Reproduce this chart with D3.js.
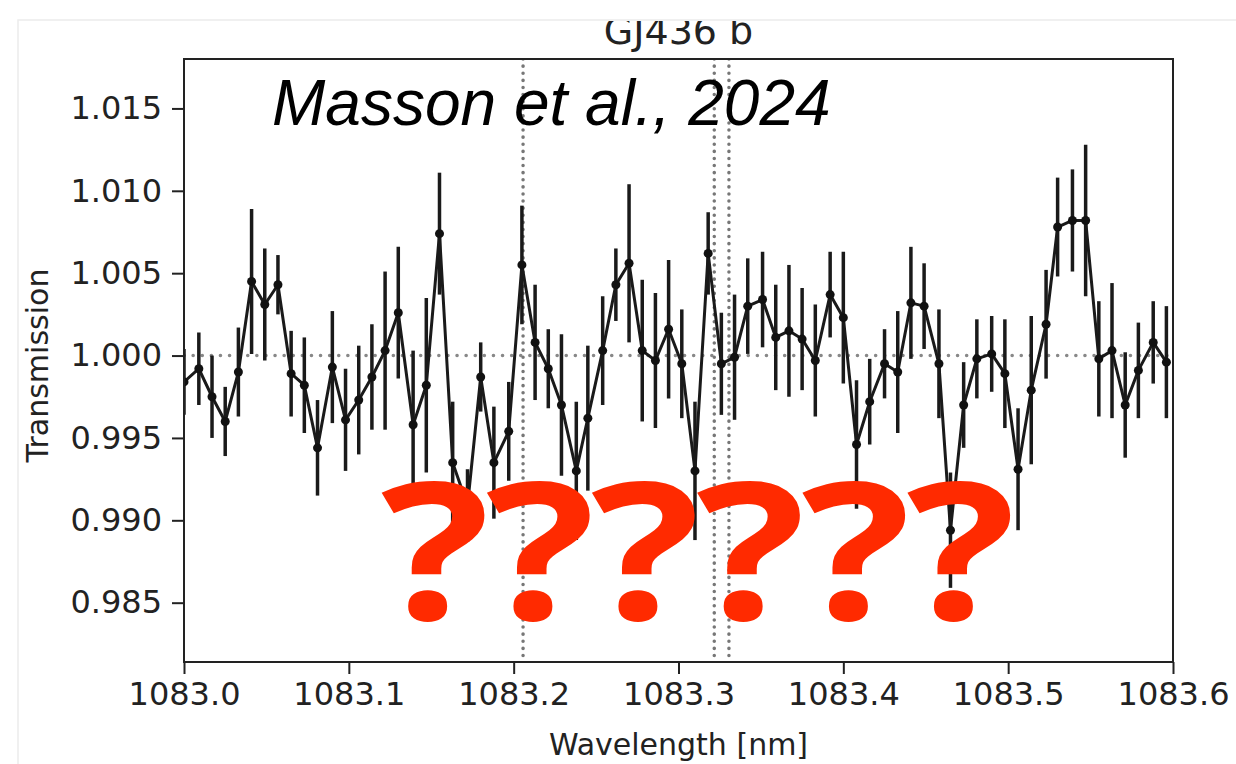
<!DOCTYPE html>
<html>
<head>
<meta charset="utf-8">
<script src="https://cdn.jsdelivr.net/npm/d3@7"></script>
<style>
  body { margin: 0; background: #fff; }
  text { font-family: "DejaVu Sans", sans-serif; }
</style>
</head>
<body>
<div id="chart"></div>
<script>
var wavelength = [1083.000, 1083.009, 1083.017, 1083.025, 1083.033, 1083.041, 1083.049, 1083.057, 1083.065, 1083.073,
  1083.081, 1083.090, 1083.098, 1083.106, 1083.114, 1083.122, 1083.130, 1083.139, 1083.147, 1083.155,
  1083.163, 1083.172, 1083.180, 1083.188, 1083.197, 1083.205, 1083.213, 1083.221, 1083.229, 1083.238,
  1083.245, 1083.254, 1083.262, 1083.270, 1083.278, 1083.286, 1083.294, 1083.302, 1083.310, 1083.318,
  1083.326, 1083.334, 1083.342, 1083.351, 1083.359, 1083.367, 1083.375, 1083.383, 1083.392, 1083.400,
  1083.408, 1083.416, 1083.425, 1083.433, 1083.441, 1083.449, 1083.458, 1083.465, 1083.473, 1083.481,
  1083.490, 1083.498, 1083.506, 1083.514, 1083.523, 1083.530, 1083.539, 1083.547, 1083.555, 1083.563,
  1083.571, 1083.579, 1083.588, 1083.596];

var transmission = [0.9984, 0.9992, 0.9975, 0.9960, 0.9990, 1.0045, 1.0031, 1.0043, 0.9989, 0.9982,
  0.9944, 0.9993, 0.9961, 0.9973, 0.9987, 1.0003, 1.0026, 0.9958, 0.9982, 1.0074,
  0.9935, 0.9909, 0.9987, 0.9935, 0.9954, 1.0055, 1.0008, 0.9992, 0.9970, 0.9930,
  0.9962, 1.0003, 1.0043, 1.0056, 1.0003, 0.9997, 1.0016, 0.9995, 0.9930, 1.0062,
  0.9995, 0.9999, 1.0030, 1.0034, 1.0011, 1.0015, 1.0010, 0.9997, 1.0037, 1.0023,
  0.9946, 0.9972, 0.9995, 0.9990, 1.0032, 1.0030, 0.9995, 0.9894, 0.9970, 0.9998,
  1.0001, 0.9989, 0.9931, 0.9979, 1.0019, 1.0078, 1.0082, 1.0082, 0.9998, 1.0003,
  0.9970, 0.9991, 1.0008, 0.9996];

var errors = [0.0020, 0.0022, 0.0025, 0.0021, 0.0027, 0.0044, 0.0034, 0.0018, 0.0026, 0.0029,
  0.0029, 0.0034, 0.0031, 0.0033, 0.0032, 0.0048, 0.0040, 0.0045, 0.0053, 0.0037,
  0.0037, 0.0022, 0.0021, 0.0034, 0.0030, 0.0036, 0.0035, 0.0024, 0.0043, 0.0042,
  0.0044, 0.0033, 0.0022, 0.0048, 0.0043, 0.0041, 0.0042, 0.0033, 0.0042, 0.0025,
  0.0031, 0.0038, 0.0029, 0.0029, 0.0032, 0.0040, 0.0031, 0.0034, 0.0026, 0.0040,
  0.0039, 0.0026, 0.0021, 0.0037, 0.0034, 0.0026, 0.0033, 0.0035, 0.0026, 0.0024,
  0.0023, 0.0033, 0.0037, 0.0045, 0.0033, 0.0030, 0.0031, 0.0046, 0.0035, 0.0041,
  0.0032, 0.0029, 0.0025, 0.0034];

// He I triplet
var heLines = [1083.2057, 1083.3217, 1083.3306];

var xTicks = [1083.0, 1083.1, 1083.2, 1083.3, 1083.4, 1083.5, 1083.6];
var yTicks = [0.985, 0.990, 0.995, 1.000, 1.005, 1.010, 1.015];

var width = 1236, height = 764;
var plotLeft = 184, plotRight = 1173, plotTop = 59, plotBottom = 662;

var data = wavelength.map(function(w, i){
  return {w: w, t: transmission[i], e: errors[i]};
});

var svg = d3.select("#chart").append("svg")
  .attr("width", width).attr("height", height)
  .style("background", "#fff");

// faint border from the pasted screenshot
svg.append("path").attr("d", "M18,764V20H1236")
  .attr("fill", "none").attr("stroke", "#ececec").attr("stroke-width", 1.5);

var x = d3.scaleLinear().domain([1083.0, 1083.6]).range([plotLeft, plotRight]);
var y = d3.scaleLinear().domain([0.9814, 1.0180]).range([plotBottom, plotTop]);

svg.append("clipPath").attr("id", "plotclip")
  .append("rect").attr("x", plotLeft).attr("y", plotTop)
  .attr("width", plotRight - plotLeft).attr("height", plotBottom - plotTop);

var plot = svg.append("g").attr("clip-path", "url(#plotclip)");

plot.append("line")
  .attr("x1", plotLeft).attr("x2", plotRight)
  .attr("y1", y(1.0)).attr("y2", y(1.0))
  .attr("stroke", "#888").attr("stroke-width", 3.5)
  .attr("stroke-dasharray", "0.1,9").attr("stroke-linecap", "round");

plot.selectAll(".heline").data(heLines).enter().append("line")
  .attr("class", "heline")
  .attr("x1", d => x(d)).attr("x2", d => x(d))
  .attr("y1", plotTop).attr("y2", plotBottom)
  .attr("stroke", "#777").attr("stroke-width", 3.5)
  .attr("stroke-dasharray", "0.1,7").attr("stroke-linecap", "round");

plot.selectAll(".err").data(data).enter().append("line")
  .attr("class", "err")
  .attr("x1", d => x(d.w)).attr("x2", d => x(d.w))
  .attr("y1", d => y(d.t - d.e)).attr("y2", d => y(d.t + d.e))
  .attr("stroke", "#1a1a1a").attr("stroke-width", 3.5);

plot.append("path").datum(data)
  .attr("fill", "none").attr("stroke", "#1a1a1a").attr("stroke-width", 3)
  .attr("stroke-linejoin", "round")
  .attr("d", d3.line().x(d => x(d.w)).y(d => y(d.t)));

plot.selectAll(".pt").data(data).enter().append("circle")
  .attr("class", "pt")
  .attr("cx", d => x(d.w)).attr("cy", d => y(d.t)).attr("r", 4.5)
  .attr("fill", "#111");

// axes
var xAxis = svg.append("g").attr("transform", "translate(0," + plotBottom + ")")
  .call(d3.axisBottom(x).tickValues(xTicks).tickFormat(d3.format(".1f")).tickSize(12).tickPadding(8));
var yAxis = svg.append("g").attr("transform", "translate(" + plotLeft + ",0)")
  .call(d3.axisLeft(y).tickValues(yTicks).tickFormat(d3.format(".3f")).tickSize(12).tickPadding(10));

[xAxis, yAxis].forEach(function(ax){
  ax.select(".domain").remove();
  ax.selectAll("line").attr("stroke", "#222").attr("stroke-width", 2);
  ax.selectAll("text").attr("fill", "#222").style("font-size", "32px")
    .style("font-family", "DejaVu Sans, sans-serif");
});

svg.append("rect")
  .attr("x", plotLeft).attr("y", plotTop)
  .attr("width", plotRight - plotLeft).attr("height", plotBottom - plotTop)
  .attr("fill", "none").attr("stroke", "#222").attr("stroke-width", 2);

svg.append("text")
  .attr("x", (plotLeft + plotRight) / 2).attr("y", 755)
  .attr("text-anchor", "middle").attr("fill", "#222")
  .style("font-size", "30px").text("Wavelength [nm]");

svg.append("text")
  .attr("transform", "translate(48," + ((plotTop + plotBottom) / 2 + 5) + ") rotate(-90)")
  .attr("text-anchor", "middle").attr("fill", "#222")
  .style("font-size", "30px").text("Transmission");

// title is cut off at the top in the source image
svg.append("clipPath").attr("id", "titleclip")
  .append("rect").attr("x", 0).attr("y", 21).attr("width", width).attr("height", 38);
svg.append("text")
  .attr("clip-path", "url(#titleclip)")
  .attr("x", (plotLeft + plotRight) / 2).attr("y", 44)
  .attr("text-anchor", "middle").attr("fill", "#222")
  .style("font-size", "38px").text("GJ436 b");

svg.append("text")
  .attr("x", 272).attr("y", 125)
  .attr("fill", "#000")
  .style("font-family", "Liberation Sans, Arial, sans-serif")
  .style("font-style", "italic")
  .style("font-size", "64px").text("Masson et al., 2024");

svg.append("text")
  .attr("transform", "translate(381,619) scale(1.2,1)")
  .attr("fill", "#ff2a00")
  .style("font-family", "Open Sans, sans-serif")
  .style("font-weight", "bold")
  .style("letter-spacing", "-3px")
  .style("font-size", "190px").text("??????");
</script>
</body>
</html>
